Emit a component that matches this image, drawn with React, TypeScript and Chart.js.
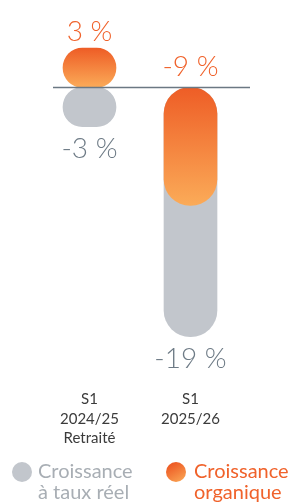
import React, { useEffect, useRef } from "react";
import { Chart, registerables } from "chart.js";

Chart.register(...registerables);

const categories: string[][] = [["S1", "2024/25", "Retraité"], ["S1", "2025/26"]];
const reelValues: number[] = [-3, -19];
const organiqueValues: number[] = [3, -9];
const legendReel = ["Croissance", "à taux réel"];
const legendOrganique = ["Croissance", "organique"];

const GRAY = "#c2c6cc";
const GRAY_TEXT = "#6e7b86";
const ORANGE_TEXT = "#f0622b";
const ORANGE_TOP = "#ee5d26";
const ORANGE_BOTTOM = "#fbab58";
const FONT = "Lato, 'Open Sans', sans-serif";

const fmt = (v: number) => `${v} %`;

const labelPlugin = {
  id: "valueLabels",
  afterDatasetsDraw(chart: any) {
    const { ctx } = chart;
    const y = chart.scales.y;
    const zero = y.getPixelForValue(0);
    ctx.save();
    ctx.strokeStyle = "#6b7883";
    ctx.lineWidth = 1.4;
    ctx.beginPath();
    ctx.moveTo(chart.chartArea.left + 14, zero);
    ctx.lineTo(chart.chartArea.right + 9, zero);
    ctx.stroke();
    ctx.font = `300 28px ${FONT}`;
    ctx.textAlign = "center";
    ctx.textBaseline = "middle";
    chart.data.datasets.forEach((ds: any, di: number) => {
      const meta = chart.getDatasetMeta(di);
      meta.data.forEach((el: any, i: number) => {
        const v = ds.data[i];
        const py = y.getPixelForValue(v);
        if (di === 0) {
          ctx.fillStyle = GRAY_TEXT;
          ctx.fillText(fmt(v), el.x, Math.max(py, zero) + 22);
        } else {
          ctx.fillStyle = ORANGE_TEXT;
          const off = v >= 0 ? 16 : 20;
          ctx.fillText(fmt(v), el.x, Math.min(py, zero) - off);
        }
      });
    });
    ctx.restore();
  },
};

export default function App() {
  const ref = useRef<HTMLCanvasElement | null>(null);
  useEffect(() => {
    if (!ref.current) return;
    const chart = new Chart(ref.current, {
      type: "bar",
      data: {
        labels: categories,
        datasets: [
          {
            label: legendReel.join(" "),
            data: reelValues,
            backgroundColor: GRAY,
            order: 1,
          },
          {
            label: legendOrganique.join(" "),
            data: organiqueValues,
            order: 0,
            backgroundColor: (c: any) => {
              const chart = c.chart;
              if (!chart.chartArea || c.raw === undefined) return ORANGE_TOP;
              const ys = chart.scales.y;
              const top = ys.getPixelForValue(Math.max(c.raw, 0));
              const bottom = ys.getPixelForValue(Math.min(c.raw, 0));
              const g = chart.ctx.createLinearGradient(0, top, 0, bottom);
              g.addColorStop(0, ORANGE_TOP);
              g.addColorStop(1, ORANGE_BOTTOM);
              return g;
            },
          },
        ] as any,
      },
      options: {
        animation: false,
        responsive: true,
        maintainAspectRatio: false,
        datasets: {
          bar: {
            grouped: false,
            barThickness: 53,
            borderRadius: 27,
            borderSkipped: false,
          },
        } as any,
        layout: { padding: { left: 39, right: 50, top: 0, bottom: 48 } },
        plugins: { legend: { display: false }, tooltip: { enabled: false } },
        scales: {
          x: {
            grid: { display: false, drawTicks: false },
            border: { display: false },
            ticks: {
              color: "#3b3b3b",
              padding: 7,
              maxRotation: 0,
              autoSkip: false,
              font: { family: FONT, size: 15, lineHeight: 1.3 },
            },
          },
          y: { display: false, min: -22.5, max: 6.667 },
        },
      },
      plugins: [labelPlugin],
    });
    return () => chart.destroy();
  }, []);

  const legendText = (color: string): React.CSSProperties => ({
    position: "absolute",
    top: 460,
    fontFamily: FONT,
    fontSize: 20,
    lineHeight: "21px",
    color,
    whiteSpace: "nowrap",
  });

  return (
    <div style={{ position: "absolute", left: 0, top: 0, width: 291, height: 503, background: "#fff" }}>
      <div style={{ position: "absolute", left: 0, top: 0, width: 291, height: 503 }}>
        <canvas ref={ref} />
      </div>
      <div style={{ position: "absolute", left: 12, top: 462, width: 20, height: 20, borderRadius: "50%", background: GRAY }} />
      <div style={{ ...legendText("#a8aeb4"), left: 38 }}>
        {legendReel[0]}<br />{legendReel[1]}
      </div>
      <div
        style={{
          position: "absolute", left: 166, top: 462, width: 20, height: 20, borderRadius: "50%",
          background: `linear-gradient(150deg, ${ORANGE_TOP} 20%, ${ORANGE_BOTTOM} 100%)`,
        }}
      />
      <div style={{ ...legendText(ORANGE_TEXT), left: 194 }}>
        {legendOrganique[0]}<br />{legendOrganique[1]}
      </div>
    </div>
  );
}
